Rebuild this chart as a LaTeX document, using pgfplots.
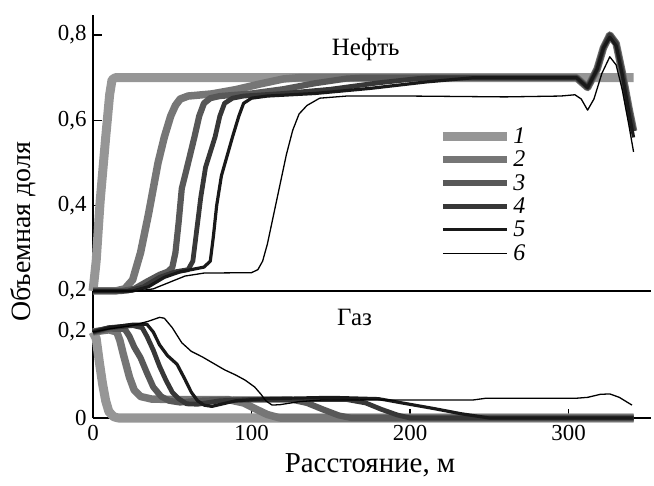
\documentclass[border=0pt]{standalone}
\usepackage{fontspec}
\setmainfont{Liberation Serif}
\usepackage{pgfplots}
\pgfplotsset{compat=1.18}
\definecolor{c1}{RGB}{150,150,150}
\definecolor{c2}{RGB}{118,118,118}
\definecolor{c3}{RGB}{88,88,88}
\definecolor{c4}{RGB}{55,55,55}
\definecolor{c5}{RGB}{25,25,25}
\definecolor{c6}{RGB}{0,0,0}
\pgfplotsset{
  common/.style={
    scale only axis, width=558bp, xmin=0, xmax=352,
    axis x line*=bottom, axis y line*=left,
    axis line style={line width=1.8bp,-},
    every tick/.style={line width=1.5bp,black},
    major tick length=9bp, tick align=inside,
    clip=false,
    ticklabel style={font=\fontsize{23}{26}\selectfont},
    yticklabel style={xshift=-3bp},
    xticklabel style={yshift=-4bp},
    line join=round,
  },
  s1/.style={c1,line width=9bp},
  s2/.style={c2,line width=7.5bp},
  s3/.style={c3,line width=6.2bp},
  s4/.style={c4,line width=4.8bp},
  s5/.style={c5,line width=3.2bp},
  s6/.style={c6,line width=1.3bp},
}
\begin{document}
\begin{tikzpicture}[x=1bp,y=1bp]
\path (-93bp,-68bp) rectangle (561bp,418bp);
% ---------------- Gas (lower) ----------------
\begin{axis}[common, at={(0bp,0bp)}, anchor=south west, height=127bp,
  ymin=0, ymax=0.2953,
  xtick={0,100,200,300}, xticklabels={0,100,200,300},
  ytick={0,0.2}, yticklabels={0,{0,2}},
]
\addplot[s1] coordinates {(0,0.2)(2,0.185)(4,0.13)(6,0.08)(8,0.04)(10,0.015)(13,0.003)(16,0)(341,0)};
\addplot[s2] coordinates {(0,0.2)(10,0.205)(15,0.2)(17,0.18)(19,0.15)(23,0.095)(26,0.065)(30,0.05)(37,0.044)(50,0.043)(85,0.043)(95,0.035)(102,0.022)(110,0.008)(118,0)(341,0)};
\addplot[s3] coordinates {(0,0.2)(10,0.208)(20,0.207)(23,0.19)(26,0.165)(30,0.14)(34,0.105)(38,0.072)(43,0.05)(48,0.04)(55,0.036)(65,0.04)(90,0.043)(125,0.043)(135,0.035)(145,0.02)(155,0.006)(163,0)(341,0)};
\addplot[s4] coordinates {(0,0.2)(10,0.21)(25,0.215)(31,0.21)(34,0.19)(38,0.158)(42,0.12)(46,0.088)(50,0.06)(54,0.045)(59,0.033)(66,0.032)(80,0.04)(100,0.043)(160,0.043)(172,0.035)(182,0.02)(192,0.007)(200,0)(341,0)};
\addplot[s5] coordinates {(0,0.2)(10,0.21)(25,0.218)(34,0.218)(38,0.2)(42,0.17)(47,0.145)(53,0.125)(58,0.09)(62,0.06)(66,0.04)(70,0.03)(75,0.027)(90,0.04)(110,0.045)(150,0.048)(180,0.045)(195,0.035)(215,0.022)(232,0.01)(250,0)(341,0)};
\addplot[s6] coordinates {(0,0.2)(10,0.207)(25,0.215)(35,0.225)(42,0.234)(45,0.232)(50,0.21)(56,0.175)(62,0.155)(69,0.142)(76,0.127)(83,0.112)(90,0.1)(96,0.088)(102,0.072)(106,0.055)(109,0.04)(113,0.03)(118,0.031)(130,0.038)(145,0.042)(240,0.042)(248,0.046)(305,0.046)(312,0.048)(320,0.055)(326,0.056)(332,0.048)(340,0.03)};
\node[font=\fontsize{25}{28}\selectfont] at (axis cs:165,0.233) {Газ};
\end{axis}
% ---------------- Oil (upper) ----------------
\begin{axis}[common, at={(0bp,127bp)}, anchor=south west, height=276bp,
  ymin=0.2, ymax=0.847,
  xtick=\empty,
  ytick={0.2,0.4,0.6,0.8}, yticklabels={{0,2},{0,4},{0,6},{0,8}},
  legend cell align=left,
  legend style={draw=none, fill=none, at={(0.613,0.605)}, anchor=north west,
    font=\fontsize{24}{26}\selectfont\itshape,
    nodes={text height=15bp, text depth=1bp, inner sep=2bp},
    row sep=3.4bp},
  legend image code/.code={\draw[#1] (0bp,0bp) -- (64bp,0bp);},
]
\addplot[s1] coordinates {(0,0.2)(2,0.27)(4.5,0.41)(8,0.56)(10.5,0.66)(12,0.695)(14,0.70)(341,0.70)};
\addplot[s2] coordinates {(0,0.2)(14,0.2)(20,0.205)(25,0.226)(30,0.29)(35,0.38)(38,0.44)(41,0.50)(45,0.561)(49,0.61)(52,0.635)(55,0.65)(60,0.657)(75,0.662)(90,0.672)(105,0.685)(120,0.697)(130,0.70)(305,0.70)(312,0.677)(318,0.72)(322,0.77)(326,0.80)(330,0.78)(334,0.71)(338,0.63)(341,0.575)};
\addplot[s3] coordinates {(0,0.2)(18,0.2)(26,0.205)(34,0.222)(42,0.238)(47,0.245)(50,0.255)(52,0.29)(54,0.36)(56,0.44)(60,0.50)(64,0.561)(67,0.61)(70,0.64)(74,0.652)(80,0.657)(100,0.663)(120,0.673)(140,0.687)(160,0.698)(170,0.70)(305,0.70)(312,0.677)(318,0.72)(322,0.77)(326,0.80)(330,0.78)(334,0.71)(338,0.63)(341,0.575)};
\addplot[s4] coordinates {(0,0.2)(22,0.2)(32,0.21)(42,0.232)(52,0.245)(60,0.25)(63,0.27)(65,0.33)(68,0.42)(71,0.49)(77,0.561)(80,0.61)(83,0.64)(88,0.652)(95,0.657)(120,0.663)(150,0.673)(180,0.688)(205,0.698)(215,0.70)(305,0.70)(312,0.677)(318,0.72)(322,0.77)(326,0.80)(330,0.78)(334,0.71)(338,0.63)(341,0.575)};
\addplot[s5] coordinates {(0,0.2)(25,0.2)(35,0.21)(45,0.232)(55,0.245)(70,0.256)(74,0.27)(76,0.33)(78,0.40)(81,0.47)(88,0.561)(92,0.61)(95,0.64)(100,0.652)(110,0.657)(140,0.663)(175,0.675)(210,0.69)(240,0.70)(305,0.70)(312,0.677)(318,0.72)(322,0.77)(326,0.795)(330,0.775)(334,0.705)(338,0.62)(341,0.56)};
\addplot[s6] coordinates {(0,0.2)(28,0.2)(38,0.205)(48,0.22)(58,0.235)(70,0.242)(100,0.243)(104,0.25)(107,0.27)(110,0.31)(114,0.38)(118,0.45)(122,0.52)(126,0.577)(130,0.615)(135,0.635)(143,0.652)(160,0.657)(200,0.657)(230,0.656)(260,0.655)(295,0.657)(304,0.66)(308,0.65)(312,0.624)(316,0.65)(321,0.71)(326,0.749)(330,0.73)(334,0.67)(338,0.59)(341,0.526)};
\legend{1,2,3,4,5,6}
\node[font=\fontsize{25}{28}\selectfont] at (axis cs:172,0.765) {Нефть};
\end{axis}
\node[rotate=90, font=\fontsize{28}{30}\selectfont] at (-70bp,186bp) {Объемная доля};
\node[font=\fontsize{29}{32}\selectfont] at (277bp,-47bp) {Расстояние, м};
\end{tikzpicture}
\end{document}
